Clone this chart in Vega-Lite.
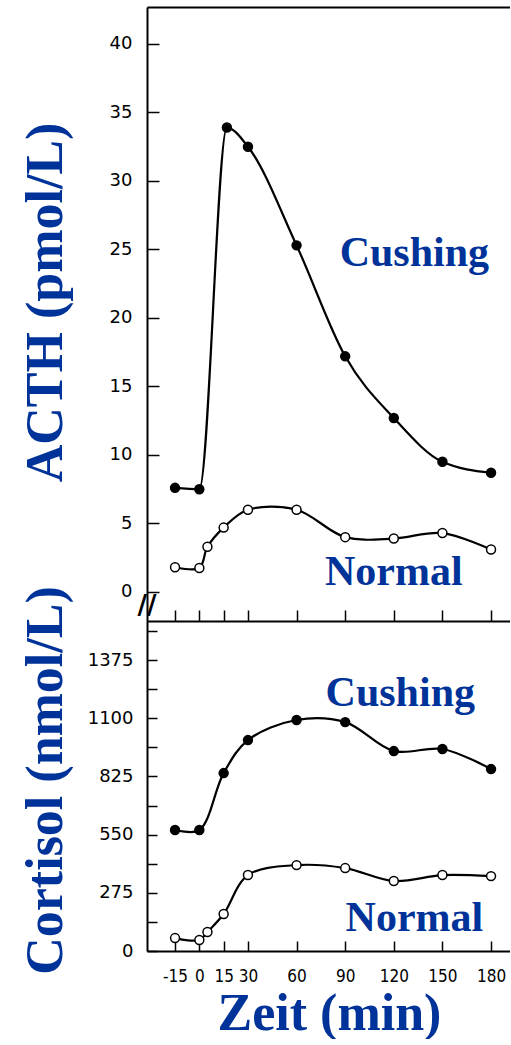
{
  "$schema": "https://vega.github.io/schema/vega-lite/v6.json",
  "autosize": {"type": "pad"},
  "padding": {"left": 18, "top": 7, "right": 0, "bottom": 0},
  "spacing": 0,
  "bounds": "flush",
  "background": "white",
  "config": {
    "view": {"stroke": null},
    "axis": {
      "grid": false,
      "labelFont": "DejaVu Sans",
      "labelFontSize": 18,
      "labelColor": "black",
      "labelOverlap": false,
      "domainColor": "black",
      "domainWidth": 2,
      "tickColor": "black",
      "tickWidth": 1.5
    }
  },
  "datasets": {
    "acth": [
      {"zeit": -15, "wert": 7.6, "gruppe": "Cushing"},
      {"zeit": 0, "wert": 7.5, "gruppe": "Cushing"},
      {"zeit": 17, "wert": 33.9, "gruppe": "Cushing"},
      {"zeit": 30, "wert": 32.5, "gruppe": "Cushing"},
      {"zeit": 60, "wert": 25.3, "gruppe": "Cushing"},
      {"zeit": 90, "wert": 17.2, "gruppe": "Cushing"},
      {"zeit": 120, "wert": 12.7, "gruppe": "Cushing"},
      {"zeit": 150, "wert": 9.5, "gruppe": "Cushing"},
      {"zeit": 180, "wert": 8.7, "gruppe": "Cushing"},
      {"zeit": -15, "wert": 1.8, "gruppe": "Normal"},
      {"zeit": 0, "wert": 1.75, "gruppe": "Normal"},
      {"zeit": 5, "wert": 3.3, "gruppe": "Normal"},
      {"zeit": 15, "wert": 4.7, "gruppe": "Normal"},
      {"zeit": 30, "wert": 6.0, "gruppe": "Normal"},
      {"zeit": 60, "wert": 6.0, "gruppe": "Normal"},
      {"zeit": 90, "wert": 4.0, "gruppe": "Normal"},
      {"zeit": 120, "wert": 3.9, "gruppe": "Normal"},
      {"zeit": 150, "wert": 4.3, "gruppe": "Normal"},
      {"zeit": 180, "wert": 3.1, "gruppe": "Normal"}
    ],
    "cortisol": [
      {"zeit": -15, "wert": 572, "gruppe": "Cushing"},
      {"zeit": 0, "wert": 572, "gruppe": "Cushing"},
      {"zeit": 15, "wert": 841, "gruppe": "Cushing"},
      {"zeit": 30, "wert": 997, "gruppe": "Cushing"},
      {"zeit": 60, "wert": 1092, "gruppe": "Cushing"},
      {"zeit": 90, "wert": 1082, "gruppe": "Cushing"},
      {"zeit": 120, "wert": 945, "gruppe": "Cushing"},
      {"zeit": 150, "wert": 955, "gruppe": "Cushing"},
      {"zeit": 180, "wert": 860, "gruppe": "Cushing"},
      {"zeit": -15, "wert": 61, "gruppe": "Normal"},
      {"zeit": 0, "wert": 52, "gruppe": "Normal"},
      {"zeit": 5, "wert": 90, "gruppe": "Normal"},
      {"zeit": 15, "wert": 175, "gruppe": "Normal"},
      {"zeit": 30, "wert": 359, "gruppe": "Normal"},
      {"zeit": 60, "wert": 406, "gruppe": "Normal"},
      {"zeit": 90, "wert": 392, "gruppe": "Normal"},
      {"zeit": 120, "wert": 331, "gruppe": "Normal"},
      {"zeit": 150, "wert": 359, "gruppe": "Normal"},
      {"zeit": 180, "wert": 354, "gruppe": "Normal"}
    ],
    "labels_acth": [
      {"zeit": 132.7, "wert": 23.8, "text": "Cushing"},
      {"zeit": 120, "wert": 0.5, "text": "Normal"}
    ],
    "labels_cortisol": [
      {"zeit": 124, "wert": 1158, "text": "Cushing"},
      {"zeit": 132.7, "wert": 94.5, "text": "Normal"}
    ],
    "bruch": [
      {"zeit": -32.3, "wert": -1.0, "text": "//"}
    ]
  },
  "vconcat": [
    {
      "width": 363,
      "height": 614,
      "resolve": {"axis": {"x": "independent", "y": "independent"}},
      "layer": [
        {
          "data": {"name": "acth"},
          "transform": [{"filter": "datum.gruppe == 'Cushing'"}],
          "mark": {"type": "line", "interpolate": "monotone", "color": "black", "strokeWidth": 2.2},
          "encoding": {
            "x": {"field": "zeit", "type": "quantitative",
              "scale": {"domain": [-32.3, 191.7], "nice": false, "zero": false},
              "axis": {"orient": "bottom", "values": [-15, 0, 15, 30, 60, 90, 120, 150, 180], "labels": false, "tickSize": -11, "title": null}},
            "y": {"field": "wert", "type": "quantitative",
              "scale": {"domain": [-2.12, 42.7], "nice": false, "zero": false},
              "axis": {"values": [0, 5, 10, 15, 20, 25, 30, 35, 40], "tickSize": -12, "labelPadding": 27,
                "title": "ACTH (pmol/L)", "titleFont": "Liberation Serif", "titleFontSize": 52, "titleFontWeight": "bold",
                "titleColor": "#003399", "titleAngle": 270, "titleBaseline": "alphabetic", "titleAlign": "center",
                "titleX": -86, "titleY": 295}}
          }
        },
        {
          "data": {"name": "acth"},
          "transform": [{"filter": "datum.gruppe == 'Normal'"}],
          "mark": {"type": "line", "interpolate": "catmull-rom", "color": "black", "strokeWidth": 2.2},
          "encoding": {
            "x": {"field": "zeit", "type": "quantitative", "axis": null},
            "y": {"field": "wert", "type": "quantitative", "axis": null}
          }
        },
        {
          "data": {"name": "acth"},
          "mark": {"type": "circle", "size": 80, "stroke": "black", "strokeWidth": 1.5, "opacity": 1},
          "encoding": {
            "x": {"field": "zeit", "type": "quantitative",
              "axis": {"orient": "top", "ticks": false, "labels": false, "title": null}},
            "y": {"field": "wert", "type": "quantitative", "axis": null},
            "fill": {"field": "gruppe", "type": "nominal", "scale": {"domain": ["Cushing", "Normal"], "range": ["black", "white"]}, "legend": null}
          }
        },
        {
          "data": {"name": "labels_acth"},
          "mark": {"type": "text", "font": "Liberation Serif", "fontSize": 42, "fontWeight": "bold", "color": "#003399", "align": "center", "baseline": "alphabetic"},
          "encoding": {
            "x": {"field": "zeit", "type": "quantitative", "axis": null},
            "y": {"field": "wert", "type": "quantitative", "axis": null},
            "text": {"field": "text"}
          }
        },
        {
          "data": {"name": "bruch"},
          "mark": {"type": "text", "font": "DejaVu Sans", "fontSize": 26, "fontWeight": "bold", "color": "black", "align": "center", "baseline": "middle"},
          "encoding": {
            "x": {"field": "zeit", "type": "quantitative", "axis": null},
            "y": {"field": "wert", "type": "quantitative", "axis": null},
            "text": {"field": "text"}
          }
        }
      ]
    },
    {
      "width": 363,
      "height": 330,
      "resolve": {"axis": {"x": "independent", "y": "independent"}},
      "layer": [
        {
          "data": {"name": "cortisol"},
          "mark": {"type": "line", "interpolate": "catmull-rom", "color": "black", "strokeWidth": 2.2},
          "encoding": {
            "x": {"field": "zeit", "type": "quantitative",
              "scale": {"domain": [-32.3, 191.7], "nice": false, "zero": false},
              "axis": {"orient": "bottom", "values": [-15, 0, 15, 30, 60, 90, 120, 150, 180], "tickSize": -10, "labelPadding": 27,
                "labelExpr": "'' + datum.value", "labelFont": "DejaVu Sans Condensed", "labelFontSize": 17,
                "title": "Zeit (min)", "titleFont": "Liberation Serif", "titleFontSize": 52, "titleFontWeight": "bold",
                "titleColor": "#003399", "titleBaseline": "alphabetic", "titleAlign": "center", "titleX": 182, "titleY": 78}},
            "y": {"field": "wert", "type": "quantitative",
              "scale": {"domain": [0, 1560], "nice": false, "zero": false},
              "axis": {"values": [0, 137.5, 275, 412.5, 550, 687.5, 825, 962.5, 1100, 1237.5, 1375, 1512.5], "format": "d",
                "labelExpr": "datum.value % 275 == 0 ? datum.label : ''",
                "tickSize": -10, "labelPadding": 24,
                "title": "Cortisol (nmol/L)", "titleFont": "Liberation Serif", "titleFontSize": 52, "titleFontWeight": "bold",
                "titleColor": "#003399", "titleAngle": 270, "titleBaseline": "alphabetic", "titleAlign": "center",
                "titleX": -86, "titleY": 159}},
            "detail": {"field": "gruppe"}
          }
        },
        {
          "data": {"name": "cortisol"},
          "mark": {"type": "circle", "size": 80, "stroke": "black", "strokeWidth": 1.5, "opacity": 1},
          "encoding": {
            "x": {"field": "zeit", "type": "quantitative", "axis": null},
            "y": {"field": "wert", "type": "quantitative", "axis": null},
            "fill": {"field": "gruppe", "type": "nominal", "scale": {"domain": ["Cushing", "Normal"], "range": ["black", "white"]}, "legend": null}
          }
        },
        {
          "data": {"name": "labels_cortisol"},
          "mark": {"type": "text", "font": "Liberation Serif", "fontSize": 42, "fontWeight": "bold", "color": "#003399", "align": "center", "baseline": "alphabetic"},
          "encoding": {
            "x": {"field": "zeit", "type": "quantitative", "axis": null},
            "y": {"field": "wert", "type": "quantitative", "axis": null},
            "text": {"field": "text"}
          }
        }
      ]
    }
  ]
}
